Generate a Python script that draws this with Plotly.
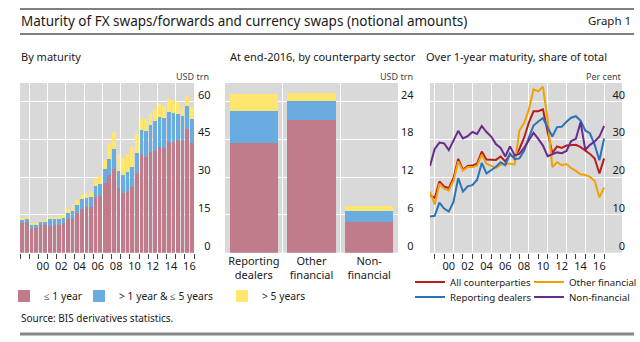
import plotly.graph_objects as go

W, H = 640, 342


def px(x):
    return x / W


def py(y):
    return 1 - y / H


FONT = "Noto Sans"

# ---------------- data ----------------
years = list(range(1998, 2017))
periods = [(y, h) for y in years for h in (1, 2)]  # half-year periods, Jun/Dec

# By maturity, USD trn (stacked segments)
le1y = [11.7, 12.2, 9.5, 9.9, 10.9, 10.9, 10.7, 11.1, 11.1, 11.7,
        13.3, 13.9, 15.7, 17.4, 18.0, 18.1, 22.0, 22.5, 27.6, 30.9,
        33.4, 25.9, 23.6, 24.5, 26.0, 31.6, 39.3, 38.0, 40.0, 40.5,
        42.2, 41.5, 44.2, 44.2, 44.9, 44.6, 49.2, 43.5]
y1to5 = [1.6, 1.3, 1.6, 1.4, 1.4, 1.4, 2.6, 2.2, 2.3, 2.1,
         2.5, 2.7, 3.1, 3.8, 3.8, 3.9, 4.5, 4.8, 5.8, 6.4,
         7.7, 6.7, 7.2, 7.7, 8.2, 8.2, 9.5, 10.4, 10.8, 11.7,
         11.7, 12.0, 11.8, 11.3, 10.3, 9.8, 9.2, 9.7]
gt5y = [0.6, 0.5, 0.6, 0.5, 0.4, 0.7, 0.9, 0.9, 1.2, 1.1,
        1.4, 2.0, 2.2, 1.7, 2.1, 2.3, 2.7, 3.2, 3.5, 6.2,
        7.1, 6.7, 7.0, 7.0, 7.7, 7.7, 4.3, 4.7, 4.7, 4.9,
        5.2, 4.9, 5.1, 4.9, 4.9, 4.4, 4.0, 4.9]

# At end-2016, by counterparty sector, USD trn
sectors = ["Reporting<br>dealers", "Other<br>financial", "Non-<br>financial"]
sec_le1y = [17.5, 21.1, 4.9]
sec_1to5 = [5.1, 3.0, 1.75]
sec_gt5y = [2.6, 1.3, 0.8]

# Over 1-year maturity, share of total, per cent
share_all = [15.3, 14.5, 18.9, 17.6, 17.1, 19.8, 24.9, 22.0, 23.0, 23.1,
             23.6, 26.8, 24.7, 24.6, 24.6, 25.5, 24.2, 26.0, 25.2, 27.5,
             30.5, 34.5, 37.5, 37.5, 38.0, 32.0, 26.4, 28.2, 27.8, 28.4,
             28.4, 28.6, 28.0, 27.2, 26.2, 25.0, 21.0, 25.0]
share_other = [16.2, 12.8, 18.3, 17.0, 16.5, 19.1, 24.2, 21.8, 22.7, 22.7,
               23.1, 26.0, 23.6, 23.1, 22.5, 23.3, 23.6, 23.6, 23.4, 32.4,
               34.4, 37.9, 43.3, 42.8, 44.0, 35.3, 22.7, 24.0, 23.2, 23.5,
               22.4, 21.7, 20.8, 20.6, 20.1, 19.0, 14.7, 17.3]
share_dealers = [9.6, 9.8, 13.3, 11.7, 10.9, 13.5, 19.8, 16.2, 17.6, 17.9,
                 19.3, 23.8, 21.0, 21.9, 22.8, 24.0, 23.2, 26.3, 24.8, 25.0,
                 27.0, 30.5, 33.7, 34.8, 35.7, 33.2, 30.8, 33.3, 33.4, 34.7,
                 35.8, 36.2, 35.0, 32.4, 31.6, 28.6, 24.5, 30.3]
share_nonfin = [23.0, 27.5, 29.2, 29.0, 27.2, 29.7, 32.3, 30.3, 30.9, 32.0,
                31.5, 33.6, 32.0, 30.8, 28.8, 27.8, 25.5, 28.2, 25.8, 26.2,
                27.8, 29.8, 31.8, 30.2, 28.4, 25.6, 26.0, 26.6, 26.4, 27.0,
                29.6, 30.2, 34.6, 27.3, 28.6, 29.5, 30.8, 33.6]

year_label_years = list(range(2000, 2017, 2))
year_labels = ["00", "02", "04", "06", "08", "10", "12", "14", "16"]

left_ticks = [0, 15, 30, 45, 60]
mid_ticks = [0, 6, 12, 18, 24]
right_ticks = [0, 10, 20, 30, 40]

# ---------------- styles ----------------
C_RED_BAR = "#c17c8c"
C_BLUE_BAR = "#69ade0"
C_YEL_BAR = "#ffe66f"
C_BG = "#d9d9d9"
C_ALL = "#b81c1c"
C_OTHER = "#f2a104"
C_DEAL = "#2a73ba"
C_NONF = "#6b2a8d"
TXT = "#1a1a1a"

bar_x = [y + (0.25 if h == 1 else 0.75) for (y, h) in periods]
line_x = [y + (0.5 if h == 1 else 1.0) for (y, h) in periods]
sec_x = list(range(len(sectors)))

fig = go.Figure()

# left panel bars (each with its own one-item legend)
bar_specs = [("\u2264 1 year", le1y, sec_le1y, C_RED_BAR, "legend"),
             ("> 1 year & \u2264 5 years", y1to5, sec_1to5, C_BLUE_BAR, "legend4"),
             ("> 5 years", gt5y, sec_gt5y, C_YEL_BAR, "legend5")]
for name, vals, _, col, lg in bar_specs:
    fig.add_trace(go.Bar(x=bar_x, y=vals, name=name, marker=dict(color=col, line=dict(width=0)),
                         width=0.4, xaxis="x", yaxis="y", legend=lg, hoverinfo="x+y+name"))

# middle panel bars
for name, _, svals, col, _ in bar_specs:
    fig.add_trace(go.Bar(x=sec_x, y=svals, name=name, marker=dict(color=col, line=dict(width=0)),
                         width=0.84, xaxis="x2", yaxis="y2", showlegend=False))

# right panel lines (one-item legends laid out as a 2x2 grid)
line_specs = [("All counterparties", share_all, C_ALL, "legend2"),
              ("Other financial", share_other, C_OTHER, "legend3"),
              ("Reporting dealers", share_dealers, C_DEAL, "legend6"),
              ("Non-financial", share_nonfin, C_NONF, "legend7")]
for name, vals, col, lg in line_specs:
    fig.add_trace(go.Scatter(x=line_x, y=vals, name=name, mode="lines",
                             line=dict(color=col, width=2), xaxis="x3", yaxis="y3", legend=lg))

# invisible carriers so that the overlaid label axes are drawn
fig.add_trace(go.Scatter(x=bar_x, y=le1y, xaxis="x4", yaxis="y", mode="lines",
                         line=dict(width=0), opacity=0, hoverinfo="skip", showlegend=False))
fig.add_trace(go.Scatter(x=line_x, y=share_all, xaxis="x6", yaxis="y3", mode="lines",
                         line=dict(width=0), opacity=0, hoverinfo="skip", showlegend=False))

FIG_SPACE = "\u2007"


def pad(vals):
    return [(FIG_SPACE + str(v)) if v < 10 else str(v) for v in vals]


Y_TOP, Y_BOT = 83, 252.7
ydom = [py(Y_BOT), py(Y_TOP)]
tickfont = dict(family=FONT, size=11, color=TXT)

common_y = dict(domain=ydom, side="right", showgrid=True, gridcolor="white", gridwidth=1,
                zeroline=False, showline=False, ticks="", tickfont=tickfont,
                tickmode="array", ticklabelshift=-7, fixedrange=True)


def year_axis(dom, anchor, rng, first_grid):
    return dict(domain=dom, anchor=anchor, range=rng,
                tickmode="array", tickvals=list(range(first_grid, 2018, 2)), showticklabels=False,
                showgrid=True, gridcolor="white", gridwidth=1,
                ticks="outside", ticklen=5, tickcolor="#444", tickwidth=1,
                minor=dict(tickmode="array", tickvals=list(range(first_grid - 1, 2017, 2)),
                           ticks="outside", ticklen=5, tickcolor="#444", tickwidth=1, showgrid=False),
                zeroline=False, showline=False)


def label_axis(over, anchor, rng):
    return dict(overlaying=over, anchor=anchor, range=rng, tickmode="array",
                tickvals=[y + 0.5 for y in year_label_years], ticktext=year_labels,
                ticks="", showgrid=False, zeroline=False, showline=False, tickfont=tickfont,
                side="bottom", ticklabelstandoff=5)


def one_legend(x, y, size):
    return dict(orientation="h", x=px(x), y=py(y), xanchor="left", yanchor="middle",
                font=dict(family=FONT, size=size, color=TXT), bgcolor="rgba(0,0,0,0)",
                itemwidth=30)


xaxis_left = year_axis([px(20), px(194)], "y", [1998, 2017], 1999)
xaxis_left["minor"]["tickvals"] = list(range(1998, 2017, 2))
xaxis_right = year_axis([px(430), px(622)], "y3", [1998.5, 2018.9], 1999)
xaxis_right["minor"]["tickvals"] = list(range(2000, 2017, 2))

fig.update_layout(
    width=W, height=H, margin=dict(l=0, r=0, t=0, b=0, autoexpand=False),
    paper_bgcolor="white", plot_bgcolor=C_BG,
    barmode="stack", bargap=0,
    font=dict(family=FONT, color=TXT),
    # left panel
    xaxis=xaxis_left,
    xaxis4=label_axis("x", "y", [1998, 2017]),
    yaxis=dict(anchor="x", range=[0, 67.5], tickvals=left_ticks, ticktext=pad(left_ticks),
               ticklabelstandoff=3, **common_y),
    # middle panel
    xaxis2=dict(domain=[px(225), px(398)], anchor="y2", range=[-0.5, 2.5],
                tickmode="array", tickvals=sec_x, ticktext=sectors, ticks="",
                showgrid=False, zeroline=False, showline=False, tickfont=tickfont,
                minor=dict(tickmode="array", tickvals=[-0.5, 0.5, 1.5, 2.5], showgrid=True,
                           gridcolor="white", gridwidth=1, ticks="")),
    yaxis2=dict(anchor="x2", range=[0, 27], tickvals=mid_ticks, ticktext=pad(mid_ticks),
                ticklabelstandoff=2, **common_y),
    # right panel
    xaxis3=xaxis_right,
    xaxis6=label_axis("x3", "y3", [1998.5, 2018.9]),
    yaxis3=dict(anchor="x3", range=[0, 45], tickvals=right_ticks, ticktext=pad(right_ticks),
                ticklabelposition="inside", ticklabelstandoff=-6, **common_y),
    legend=one_legend(4, 296, 10.3),
    legend4=one_legend(79, 296, 10.3),
    legend5=one_legend(222, 296, 10.3),
    legend2=one_legend(410, 282, 9.7),
    legend3=one_legend(529, 282, 9.7),
    legend6=one_legend(410, 297, 9.7),
    legend7=one_legend(529, 297, 9.7),
)

# decorations: rules
fig.add_shape(type="line", xref="paper", yref="paper", x0=px(20), x1=px(634), y0=py(9), y1=py(9),
              line=dict(color="black", width=1))
fig.add_shape(type="line", xref="paper", yref="paper", x0=px(20), x1=px(634), y0=py(34), y1=py(34),
              line=dict(color="black", width=1))
fig.add_shape(type="line", xref="paper", yref="paper", x0=px(20), x1=px(634), y0=py(334), y1=py(334),
              line=dict(color="#888888", width=3))


def ann(text, x, y, size, xanchor="left", color=TXT):
    fig.add_annotation(text=text, x=px(x), y=py(y), xref="paper", yref="paper",
                       xanchor=xanchor, yanchor="middle", showarrow=False,
                       font=dict(family=FONT, size=size, color=color))


ann("Maturity of FX swaps/forwards and currency swaps (notional amounts)", 19, 21, 13.5)
ann("Graph 1", 633, 21, 11.5, xanchor="right")
ann("By maturity", 19, 57, 11)
ann("At end-2016, by counterparty sector", 228, 57, 11)
ann("Over 1-year maturity, share of total", 424, 57, 11)
ann("USD trn", 211, 76, 9, xanchor="right", color="#444")
ann("USD trn", 415, 76, 9, xanchor="right", color="#444")
ann("Per cent", 624, 76, 9, xanchor="right", color="#444")
ann("Source: BIS derivatives statistics.", 19, 318, 10)

fig.write_html("out.html")
